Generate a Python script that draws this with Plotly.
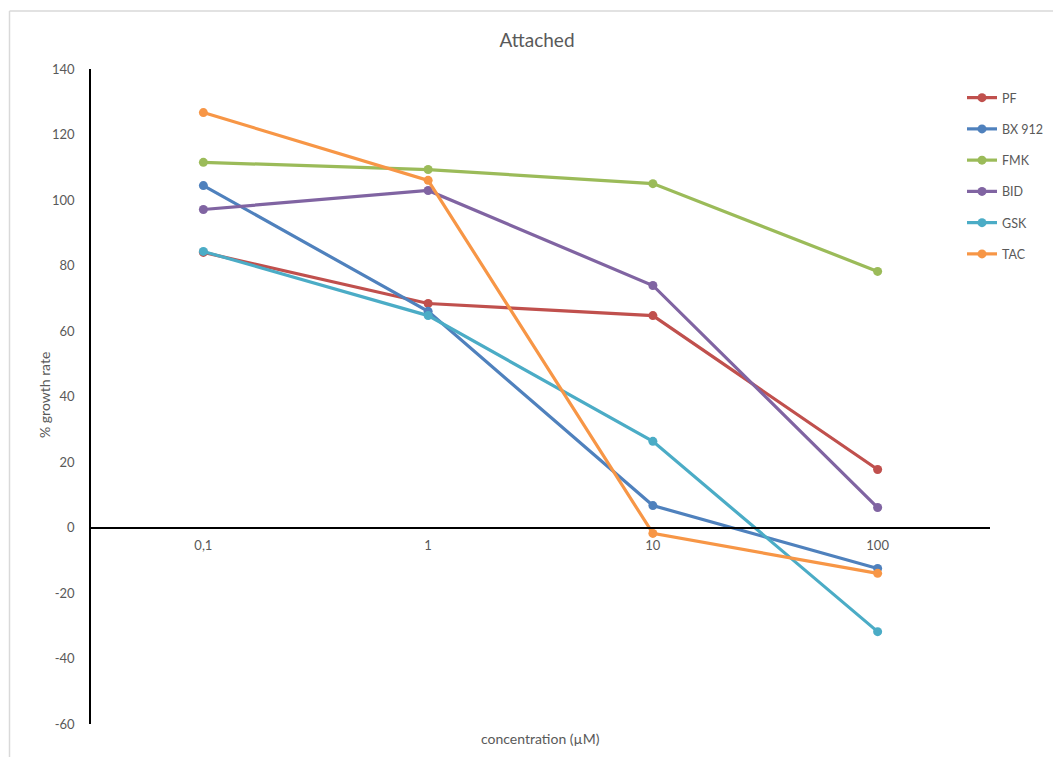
import plotly.graph_objects as go

categories = ["0,1", "1", "10", "100"]
series_names = ["PF", "BX 912", "FMK", "BID", "GSK", "TAC"]
pf = [84.0, 68.4, 64.7, 17.7]
bx912 = [104.4, 66.0, 6.7, -12.5]
fmk = [111.5, 109.3, 105.0, 78.2]
bid = [97.1, 102.9, 73.9, 6.1]
gsk = [84.3, 64.7, 26.3, -31.8]
tac = [126.7, 106.0, -1.8, -14.0]
colors = ["#c0504d", "#4f81bd", "#9bbb59", "#8064a2", "#4bacc6", "#f79646"]
y_ticks = [-60, -40, -20, 0, 20, 40, 60, 80, 100, 120, 140]
y_tick_labels = [str(v) for v in y_ticks]

W, H = 1061, 757
OFF = 8  # page body margin
# target page pixel positions of the plot area
PX0, PX1, PY0, PY1 = 91, 990, 69, 724
L, T = PX0 - OFF, PY0 - OFF
R = W - (PX1 - OFF)
B = H - (PY1 - OFF)
FONT = "Lato"
GRAY = "#595959"


def px(x):
    return (x - PX0) / (PX1 - PX0)


def py(y):
    return (PY1 - y) / (PY1 - PY0)


fig = go.Figure()
for name, vals, col in zip(series_names, [pf, bx912, fmk, bid, gsk, tac], colors):
    fig.add_trace(go.Scatter(
        x=categories, y=vals, name=name, mode="lines+markers",
        line=dict(color=col, width=3.2), marker=dict(color=col, size=9),
        legendgroup=name,
    ))

fig.update_layout(
    width=W, height=H,
    margin=dict(l=L, r=R, t=T, b=B),
    paper_bgcolor="white", plot_bgcolor="white",
    font=dict(family=FONT, color=GRAY, size=13),
    title=dict(text="Attached", x=(537 - OFF) / W, xanchor="center", y=1 - (40 - OFF) / H,
               yanchor="middle", yref="container", font=dict(size=19, color=GRAY, family=FONT)),
    showlegend=True,
    legend=dict(x=px(962), xanchor="left", y=py(83), yanchor="top",
                font=dict(size=12.5, color=GRAY), tracegroupgap=12, bgcolor="rgba(0,0,0,0)"),
    xaxis=dict(type="category", range=[-0.5, 3.5], anchor="free", position=60 / 200,
               showline=True, linecolor="black", linewidth=1.5, showgrid=False, zeroline=False,
               ticks="", ticklabelstandoff=6, tickfont=dict(size=13, color=GRAY)),
    yaxis=dict(range=[-60, 140], tickvals=y_ticks, ticktext=y_tick_labels, showline=True,
               linecolor="black", linewidth=1.5, showgrid=False, zeroline=False, ticks="",
               ticklabelstandoff=12, tickfont=dict(size=13, color=GRAY)),
    annotations=[
        dict(text="concentration (µM)", xref="paper", yref="paper", x=px(540), y=py(738),
             xanchor="center", yanchor="middle", showarrow=False, font=dict(size=14, color=GRAY)),
        dict(text="% growth rate", xref="paper", yref="paper", x=px(44), y=py(395),
             xanchor="center", yanchor="middle", showarrow=False, textangle=-90,
             font=dict(size=14, color=GRAY)),
    ],
    shapes=[
        dict(type="line", xref="paper", yref="paper", x0=px(9.5), x1=px(9.5), y0=py(11), y1=py(770),
             line=dict(color="#d9d9d9", width=1.5)),
        dict(type="line", xref="paper", yref="paper", x0=px(9.5), x1=px(1075), y0=py(11), y1=py(11),
             line=dict(color="#d9d9d9", width=1.5)),
    ],
)

fig.write_html("out.html")
